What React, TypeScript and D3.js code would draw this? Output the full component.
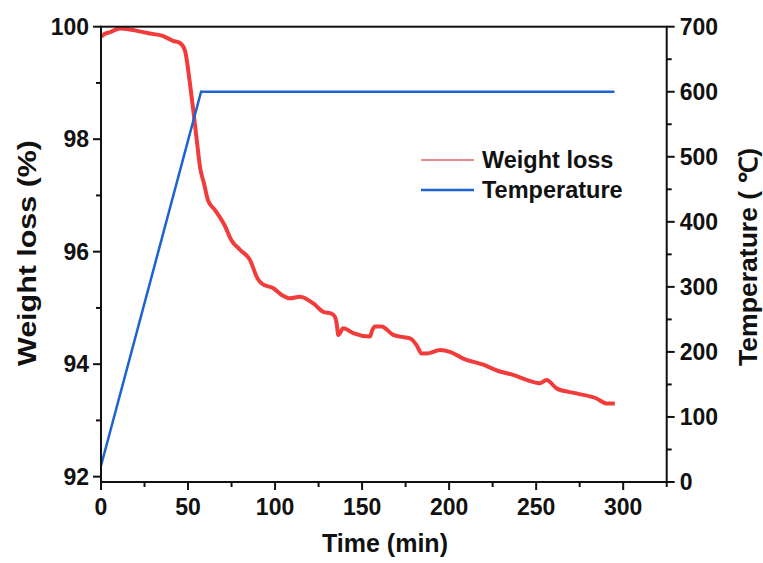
import * as d3 from "d3";

const WIDTH = 763;
const HEIGHT = 563;
const MARGIN = { top: 26.7, right: 96.3, bottom: 81, left: 101 };

// weight loss curve
const weightTime = [
  0, 2, 5, 11, 15, 20, 28, 35, 41.4, 45.4, 48.2, 51.1, 53, 55, 56.9, 59.2, 61.5, 65.5, 71, 75, 80,
  85.6, 90, 92.5, 99, 103.8, 108.6, 114.3, 122, 127.7, 132.5, 134.4, 135.5, 136.3, 139.2, 144.9,
  154.5, 155.8, 157.4, 161.2, 167.9, 171.7, 177.5, 181.3, 184.2, 187.1, 194.7, 200.5, 208.1, 219.6,
  229.2, 236.8, 244.5, 252.1, 256, 261.7, 273.2, 284.7, 290.5, 295.2,
];
const weightLoss = [
  99.82, 99.87, 99.9, 99.97, 99.96, 99.93, 99.88, 99.84, 99.75, 99.71, 99.58, 98.99, 98.52, 97.99,
  97.5, 97.21, 96.91, 96.74, 96.47, 96.2, 96.03, 95.85, 95.52, 95.43, 95.35, 95.23, 95.17, 95.2,
  95.08, 94.93, 94.9, 94.84, 94.7, 94.52, 94.64, 94.55, 94.49, 94.6, 94.67, 94.67, 94.52, 94.49,
  94.46, 94.34, 94.19, 94.19, 94.25, 94.22, 94.1, 93.99, 93.87, 93.81, 93.72, 93.66, 93.72, 93.57,
  93.48, 93.39, 93.3, 93.3,
];

// temperature program
const tempTime = [0, 57.5, 295];
const temperature = [25, 600, 600];

const xTicks = [0, 50, 100, 150, 200, 250, 300];
const xMinor = [25, 75, 125, 175, 225, 275, 325];
const leftTicks = [92, 94, 96, 98, 100];
const leftMinor = [93, 95, 97, 99];
const rightTicks = [0, 100, 200, 300, 400, 500, 600, 700];
const rightMinor = [50, 150, 250, 350, 450, 550, 650];

const RED = "#f23c3c";
const BLUE = "#1c62d0";
const FONT = "'Liberation Sans', Arial, sans-serif";

export default function App() {
  const innerW = WIDTH - MARGIN.left - MARGIN.right;
  const innerH = HEIGHT - MARGIN.top - MARGIN.bottom;
  const x0 = MARGIN.left;
  const x1 = MARGIN.left + innerW;
  const y0 = MARGIN.top + innerH;
  const y1 = MARGIN.top;

  const xScale = d3.scaleLinear().domain([0, 325]).range([x0, x1]);
  const yLeft = d3.scaleLinear().domain([91.905, 100]).range([y0, y1]);
  const yRight = d3.scaleLinear().domain([0, 700]).range([y0, y1]);

  const weightLine = d3
    .line<number>()
    .x((_, i) => xScale(weightTime[i]))
    .y((d) => yLeft(d))
    .curve(d3.curveMonotoneX);
  const tempLine = d3
    .line<number>()
    .x((_, i) => xScale(tempTime[i]))
    .y((d) => yRight(d));

  const tickStyle = { fontFamily: FONT, fontWeight: "bold", fontSize: 23, fill: "#111" } as const;

  return (
    <svg
      width={WIDTH}
      height={HEIGHT}
      style={{ position: "absolute", left: 0, top: 0, background: "#fff" }}
    >
      <path
        d={weightLine(weightLoss) || ""}
        fill="none"
        stroke={RED}
        strokeWidth={4}
        strokeLinejoin="round"
      />
      <path d={tempLine(temperature) || ""} fill="none" stroke={BLUE} strokeWidth={2.5} />

      {/* frame */}
      <rect x={x0} y={y1} width={innerW} height={innerH} fill="none" stroke="#111" strokeWidth={2} />

      {/* bottom axis */}
      {xTicks.map((t) => (
        <g key={"x" + t}>
          <line x1={xScale(t)} x2={xScale(t)} y1={y0} y2={y0 + 8} stroke="#111" strokeWidth={2} />
          <text x={xScale(t)} y={y0 + 33} textAnchor="middle" {...tickStyle}>
            {t}
          </text>
        </g>
      ))}
      {xMinor.map((t) => (
        <line key={"xm" + t} x1={xScale(t)} x2={xScale(t)} y1={y0} y2={y0 + 5} stroke="#111" strokeWidth={2} />
      ))}

      {/* left axis */}
      {leftTicks.map((t) => (
        <g key={"l" + t}>
          <line x1={x0 - 8} x2={x0} y1={yLeft(t)} y2={yLeft(t)} stroke="#111" strokeWidth={2} />
          <text x={x0 - 12} y={yLeft(t) + 8} textAnchor="end" {...tickStyle}>
            {t}
          </text>
        </g>
      ))}
      {leftMinor.map((t) => (
        <line key={"lm" + t} x1={x0 - 5} x2={x0} y1={yLeft(t)} y2={yLeft(t)} stroke="#111" strokeWidth={2} />
      ))}

      {/* right axis */}
      {rightTicks.map((t) => (
        <g key={"r" + t}>
          <line x1={x1} x2={x1 + 8} y1={yRight(t)} y2={yRight(t)} stroke="#111" strokeWidth={2} />
          <text x={x1 + 13} y={yRight(t) + 8} textAnchor="start" {...tickStyle}>
            {t}
          </text>
        </g>
      ))}
      {rightMinor.map((t) => (
        <line key={"rm" + t} x1={x1} x2={x1 + 5} y1={yRight(t)} y2={yRight(t)} stroke="#111" strokeWidth={2} />
      ))}

      {/* axis titles */}
      <text x={385} y={552} textAnchor="middle" {...tickStyle} fontSize={25}>
        Time (min)
      </text>
      <text
        transform="translate(36,253) rotate(-90)"
        textAnchor="middle"
        {...tickStyle}
        fontSize={25}
        textLength={226}
        lengthAdjust="spacingAndGlyphs"
      >
        Weight loss (%)
      </text>
      <text
        transform="translate(757,257) rotate(-90)"
        textAnchor="middle"
        {...tickStyle}
        fontSize={25}
        textLength={218}
        lengthAdjust="spacingAndGlyphs"
      >
        Temperature ( ℃)
      </text>

      {/* legend */}
      <line x1={421} x2={474} y1={160} y2={160} stroke="#e0606a" strokeWidth={1.5} />
      <text x={482} y={168} {...tickStyle} fontSize={23.5}>
        Weight loss
      </text>
      <line x1={421} x2={474} y1={190} y2={190} stroke={BLUE} strokeWidth={2.5} />
      <text x={482} y={198} {...tickStyle} fontSize={23.5}>
        Temperature
      </text>
    </svg>
  );
}
